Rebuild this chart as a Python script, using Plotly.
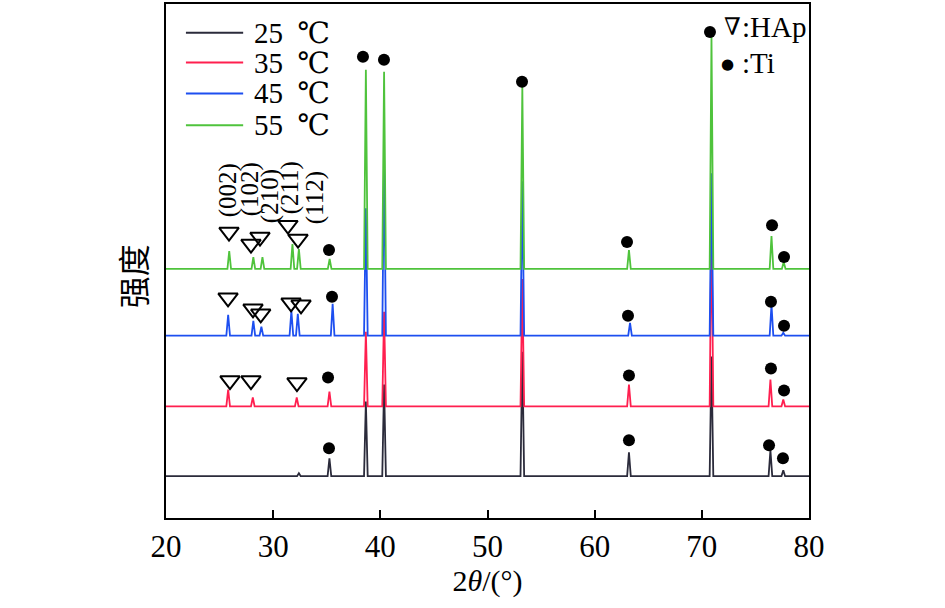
import plotly.graph_objects as go

# ---------------- data ----------------
series_names = ["25", "35", "45", "55"]
series_colors = ["#2b2b3b", "#ff1f4f", "#1d4ff0", "#4fc33c"]
baselines = [42, 112, 183, 250]          # intensity offset of each pattern (a.u.)

peaks_25_pos = [32.4, 35.25, 38.65, 40.35, 53.25, 63.2, 70.9, 76.4, 77.6]
peaks_25_hgt = [3, 18, 75, 92, 125, 24, 120, 26, 6]

peaks_35_pos = [25.8, 28.1, 32.2, 35.25, 38.65, 40.35, 53.25, 63.2, 70.9, 76.4, 77.6]
peaks_35_hgt = [17, 9, 9, 15, 75, 95, 128, 22, 188, 27, 7]

peaks_45_pos = [25.8, 28.15, 28.9, 31.7, 32.3, 35.55, 38.65, 40.35, 53.25, 63.3, 70.9, 76.5, 77.6]
peaks_45_hgt = [21, 15, 9, 25, 22, 32, 128, 180, 155, 13, 163, 31, 3]

peaks_55_pos = [25.9, 28.15, 29.0, 31.8, 32.4, 35.27, 38.65, 40.35, 53.25, 63.2, 70.9, 76.5, 77.64]
peaks_55_hgt = [18, 12, 12, 25, 20, 10, 200, 198, 183, 19, 233, 33, 7]

peak_pos = [peaks_25_pos, peaks_35_pos, peaks_45_pos, peaks_55_pos]
peak_hgt = [peaks_25_hgt, peaks_35_hgt, peaks_45_hgt, peaks_55_hgt]

# Ti markers (filled dots)
ti_x = [35.21, 38.38, 40.34, 53.22, 63.02, 70.76, 76.55, 77.67,
        35.49, 63.11, 76.45, 77.67,
        35.12, 63.20, 76.45, 77.67,
        35.21, 63.20, 76.27, 77.57]
ti_y = [269, 463, 460, 438, 277, 488, 294, 262,
        222, 203, 217, 193,
        141, 143, 150, 128,
        70, 78, 73, 60]

# HAp markers (open down triangles)
hap_x = [25.88, 27.93, 28.77, 31.38, 32.32,
         25.79, 28.12, 28.84, 31.67, 32.60,
         25.97, 27.93, 32.22]
hap_y = [287, 275, 282, 294, 280,
         221, 210, 205, 216, 214,
         138, 138, 136]

# Miller indices
hkl_text = ["(002)", "(102)", "(210)", "(211)", "(112)"]
hkl_x = [25.79, 27.84, 29.70, 31.57, 33.90]
hkl_y = [329, 330, 323, 332, 322]

x_ticks = [20, 30, 40, 50, 60, 70, 80]
x_min, x_max = 20, 80
y_min, y_max = 0, 516
half_width = 0.17

# ---------------- figure ----------------
fig = go.Figure()

for name, color, base, pos, hgt in zip(series_names, series_colors, baselines, peak_pos, peak_hgt):
    xs = [x_min]
    ys = [base]
    for c, h in sorted(zip(pos, hgt)):
        xs += [c - half_width, c, c + half_width]
        ys += [base, base + h, base]
    xs.append(x_max)
    ys.append(base)
    fig.add_trace(go.Scatter(x=xs, y=ys, mode="lines", name=name + " ℃",
                             line=dict(color=color, width=1.8), showlegend=False))

fig.add_trace(go.Scatter(x=ti_x, y=ti_y, mode="markers", showlegend=False,
                         marker=dict(symbol="circle", size=12, color="black")))
fig.add_trace(go.Scatter(x=hap_x, y=hap_y, mode="markers", showlegend=False,
                         marker=dict(symbol="triangle-down-open", size=17,
                                     color="black", line=dict(width=2, color="black"))))

serif = "Liberation Serif, Times New Roman, serif"
annotations = []
for t, x, y in zip(hkl_text, hkl_x, hkl_y):
    annotations.append(dict(x=x, y=y, xref="x", yref="y", text=t, textangle=-90,
                            xanchor="center", yanchor="middle",
                            showarrow=False, font=dict(family=serif, size=25, color="black")))

# manual legend
leg_y = [0.944, 0.886, 0.826, 0.764]
shapes = []
for name, color, ly in zip(series_names, series_colors, leg_y):
    shapes.append(dict(type="line", xref="paper", yref="paper", x0=0.031, x1=0.120,
                       y0=ly, y1=ly, line=dict(color=color, width=2)))
    annotations.append(dict(x=0.135, y=ly, xref="paper", yref="paper",
                            text=name + "&nbsp;&nbsp;℃", borderpad=0,
                            xanchor="left", yanchor="middle", showarrow=False,
                            font=dict(family="Liberation Serif, DejaVu Serif", size=29,
                                      color="black")))

annotations.append(dict(x=0.864, y=0.955, xref="paper", yref="paper", text="∇",
                        xanchor="left", yanchor="middle", showarrow=False,
                        font=dict(family="DejaVu Serif", size=24, color="black")))
annotations.append(dict(x=0.893, y=0.955, xref="paper", yref="paper", text=":HAp",
                        xanchor="left", yanchor="middle", showarrow=False,
                        font=dict(family=serif, size=29, color="black")))
annotations.append(dict(x=0.874, y=0.884, xref="paper", yref="paper", text="●",
                        xanchor="center", yanchor="middle", showarrow=False,
                        font=dict(family="DejaVu Sans", size=15, color="black")))
annotations.append(dict(x=0.893, y=0.886, xref="paper", yref="paper", text=":Ti",
                        xanchor="left", yanchor="middle", showarrow=False,
                        font=dict(family=serif, size=29, color="black")))

annotations.append(dict(x=-0.053, y=0.47, xref="paper", yref="paper", text="强度",
                        textangle=-90, xanchor="center", yanchor="middle", showarrow=False,
                        font=dict(family="Noto Sans CJK SC", size=32, color="black")))

fig.update_layout(
    width=945, height=608,
    margin=dict(l=166, r=136, t=2, b=90),
    paper_bgcolor="white", plot_bgcolor="white",
    shapes=shapes, annotations=annotations,
    xaxis=dict(range=[x_min, x_max], tickvals=x_ticks, ticks="inside", ticklen=8,
               tickwidth=2, tickcolor="black", showline=True, linewidth=2,
               linecolor="black", mirror=True, showgrid=False, zeroline=False,
               tickfont=dict(family=serif, size=31, color="black"),
               title=dict(text="2<i>θ</i>/(°)", font=dict(family=serif, size=30, color="black"),
                          standoff=4)),
    yaxis=dict(range=[y_min, y_max], showticklabels=False, ticks="", showline=True,
               linewidth=2, linecolor="black", mirror=True, showgrid=False, zeroline=False),
)

fig.write_html("out.html", config={"displayModeBar": False},
               post_script="document.body.style.margin='0px';")
